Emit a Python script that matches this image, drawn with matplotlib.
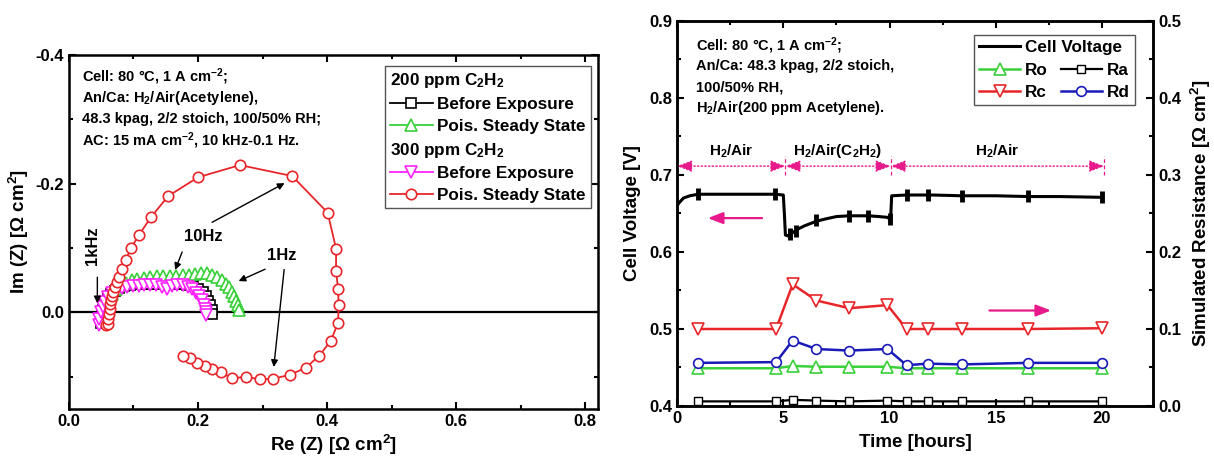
import numpy as np
import matplotlib
matplotlib.use("Agg")
from matplotlib import pyplot as plt
from matplotlib.lines import Line2D
from matplotlib.ticker import MultipleLocator

plt.rcParams['font.family'] = ['Liberation Sans', 'DejaVu Sans']
plt.rcParams['font.weight'] = 'bold'
plt.rcParams['axes.labelweight'] = 'bold'
plt.rcParams['mathtext.fontset'] = 'custom'
plt.rcParams['mathtext.rm'] = 'Liberation Sans:bold'
plt.rcParams['mathtext.bf'] = 'Liberation Sans:bold'
plt.rcParams['mathtext.it'] = 'Liberation Sans:bold'
plt.rcParams['mathtext.default'] = 'rm'
plt.rcParams['axes.unicode_minus'] = False

# ---- Nyquist data (Re, Im) in ohm cm2 ----
re_b200 = [0.050, 0.051, 0.053, 0.056, 0.060, 0.065, 0.071, 0.078, 0.086, 0.095, 0.104, 0.114, 0.124, 0.134,
           0.144, 0.154, 0.164, 0.174, 0.183, 0.192, 0.200, 0.207, 0.212, 0.216, 0.219, 0.221, 0.222]
im_b200 = [0.016, 0.006, -0.004, -0.013, -0.021, -0.028, -0.034, -0.038, -0.041, -0.043, -0.044, -0.045, -0.045, -0.045,
           -0.045, -0.045, -0.045, -0.044, -0.043, -0.041, -0.037, -0.032, -0.025, -0.018, -0.011, -0.004, 0.002]

re_p200 = [0.052, 0.055, 0.058, 0.062, 0.067, 0.073, 0.080, 0.088, 0.097, 0.106, 0.116, 0.126, 0.136, 0.146, 0.156,
           0.166, 0.176, 0.186, 0.196, 0.205, 0.214, 0.222, 0.230, 0.237, 0.243, 0.248, 0.252, 0.256, 0.259, 0.262, 0.264]
im_p200 = [0.008, -0.002, -0.012, -0.021, -0.029, -0.036, -0.042, -0.046, -0.050, -0.052, -0.054, -0.055, -0.056, -0.056,
           -0.057, -0.057, -0.058, -0.058, -0.059, -0.061, -0.062, -0.058, -0.055, -0.050, -0.045, -0.039, -0.032, -0.025,
           -0.018, -0.011, -0.004]

re_b300 = [0.046, 0.047, 0.049, 0.052, 0.056, 0.061, 0.067, 0.074, 0.082, 0.090, 0.099, 0.108, 0.117, 0.126, 0.135,
           0.144, 0.152, 0.160, 0.168, 0.176, 0.184, 0.191, 0.197, 0.202, 0.206, 0.209, 0.211, 0.212, 0.213]
im_b300 = [0.020, 0.010, 0.000, -0.009, -0.017, -0.024, -0.030, -0.035, -0.038, -0.040, -0.041, -0.041, -0.042, -0.042,
           -0.042, -0.040, -0.037, -0.041, -0.043, -0.042, -0.040, -0.036, -0.031, -0.025, -0.019, -0.012, -0.006,
           -0.001, 0.004]

re_p300 = [0.058, 0.060, 0.061, 0.062, 0.063, 0.064, 0.065, 0.067, 0.069, 0.071, 0.074, 0.078, 0.082, 0.088, 0.096,
           0.109, 0.127, 0.154, 0.200, 0.265, 0.346, 0.401, 0.414, 0.414, 0.417, 0.418, 0.417, 0.406, 0.388, 0.367,
           0.342, 0.316, 0.296, 0.275, 0.253, 0.235, 0.222, 0.211, 0.199, 0.188, 0.176]
im_p300 = [0.020, 0.018, 0.010, 0.003, -0.005, -0.013, -0.020, -0.026, -0.032, -0.039, -0.047, -0.055, -0.067, -0.081,
           -0.100, -0.121, -0.148, -0.181, -0.210, -0.229, -0.212, -0.155, -0.099, -0.065, -0.037, -0.012, 0.016, 0.044,
           0.067, 0.086, 0.097, 0.103, 0.104, 0.100, 0.102, 0.093, 0.088, 0.083, 0.078, 0.071, 0.067]

# ---- durability data ----
t_v = [0.0, 0.1, 0.3, 0.6, 1.0, 2.0, 3.0, 4.0, 4.6, 5.0, 5.05, 5.1, 5.2, 5.44, 5.7, 6.0, 6.56, 7.0, 7.5, 8.1,
       9.0, 9.5, 9.9, 10.0, 10.05, 10.1, 10.8, 12.0, 13.4, 15.0, 16.5, 18.0, 20.0]
volt = [0.660, 0.664, 0.670, 0.673, 0.675, 0.675, 0.675, 0.675, 0.675, 0.674, 0.650, 0.622, 0.621, 0.625, 0.630,
        0.634, 0.640, 0.643, 0.646, 0.647, 0.647, 0.646, 0.645, 0.643, 0.642, 0.673, 0.674, 0.674, 0.673, 0.673,
        0.672, 0.672, 0.671]
t_eis = [1.0, 4.6, 5.3, 5.6, 6.56, 8.1, 9.0, 10.0, 10.8, 11.8, 13.4, 16.5, 20.0]
v_eis = [0.675, 0.675, 0.624, 0.627, 0.641, 0.647, 0.647, 0.643, 0.674, 0.674, 0.673, 0.673, 0.671]

t_r = [1.0, 4.66, 5.44, 6.56, 8.1, 9.9, 10.8, 11.8, 13.4, 16.5, 20.0]
r_o = [0.049, 0.049, 0.052, 0.051, 0.051, 0.051, 0.049, 0.049, 0.049, 0.049, 0.049]
r_a = [0.006, 0.006, 0.008, 0.007, 0.006, 0.007, 0.006, 0.006, 0.006, 0.006, 0.006]
r_c = [0.100, 0.100, 0.158, 0.137, 0.127, 0.131, 0.100, 0.100, 0.100, 0.100, 0.101]
r_d = [0.056, 0.057, 0.085, 0.074, 0.072, 0.074, 0.053, 0.055, 0.054, 0.056, 0.056]

# stage boundaries [hours]
stage_edges = [0.0, 5.1, 10.05, 20.1]
stage_names = ['H$_2$/Air', 'H$_2$/Air(C$_2$H$_2$)', 'H$_2$/Air']

RED = '#E8262A'
GREEN = '#3AD03A'
BLUE = '#1A1AB8'
MAG = '#FF22FF'
PINK = '#E8198B'

fig = plt.figure(figsize=(12.14, 4.57), dpi=100)
ax1 = fig.add_axes([0.0568, 0.105, 0.4358, 0.7746])
ax2 = fig.add_axes([0.5577, 0.1116, 0.3921, 0.8425])
ax2r = ax2.twinx()


def style_axis(ax):
    for s in ax.spines.values():
        s.set_linewidth(1.8)
    ax.tick_params(which='both', direction='in', width=1.5, labelsize=12)
    ax.tick_params(which='major', length=5)
    ax.tick_params(which='minor', length=3)


# ---------------- left panel: Nyquist ----------------
mk = dict(markerfacecolor='white', markeredgewidth=1.2, linewidth=1.3)
l1, = ax1.plot(re_b200, im_b200, '-s', color='k', markersize=6.5, **mk)
l2, = ax1.plot(re_p200, im_p200, '-^', color=GREEN, markersize=8, **mk)
l3, = ax1.plot(re_b300, im_b300, '-v', color=MAG, markersize=8, **mk)
l4, = ax1.plot(re_p300, im_p300, '-o', color=RED, markersize=7.5, **mk)
ax1.axhline(0, color='k', linewidth=1.6, zorder=1)

ax1.set_xlim(0, 0.82)
ax1.set_ylim(0.15, -0.4)
ax1.xaxis.set_major_locator(MultipleLocator(0.2))
ax1.xaxis.set_minor_locator(MultipleLocator(0.1))
ax1.yaxis.set_major_locator(MultipleLocator(0.2))
ax1.yaxis.set_minor_locator(MultipleLocator(0.1))
ax1.xaxis.set_major_formatter(plt.FormatStrFormatter('%.1f'))
ax1.yaxis.set_major_formatter(plt.FormatStrFormatter('%.1f'))
style_axis(ax1)
ax1.tick_params(which='both', top=True, right=True)
ax1.set_xlabel('Re (Z) [Ω cm$^2$]', fontsize=13.5, labelpad=3)
ax1.set_ylabel('Im (Z) [Ω cm$^2$]', fontsize=13.5, labelpad=3)

cond1 = ['Cell: 80 °C, 1 A cm$^{-2}$;',
         'An/Ca: H$_2$/Air(Acetylene),',
         '48.3 kpag, 2/2 stoich, 100/50% RH;',
         'AC: 15 mA cm$^{-2}$, 10 kHz-0.1 Hz.']
for i, s in enumerate(cond1):
    ax1.text(0.024, 0.94 - i * 0.061, s, transform=ax1.transAxes, fontsize=10.5, va='center', ha='left')

hdr = Line2D([], [], linestyle='none', marker='none')
leg1 = ax1.legend([hdr, l1, l2, hdr, l3, l4],
                  ['200 ppm C$_2$H$_2$', 'Before Exposure', 'Pois. Steady State',
                   '300 ppm C$_2$H$_2$', 'Before Exposure', 'Pois. Steady State'],
                  loc='upper left', bbox_to_anchor=(0.597, 0.969), borderaxespad=0,
                  fontsize=12.3, handlelength=2.5, handletextpad=0.25, labelspacing=0.4,
                  borderpad=0.3, fancybox=False, framealpha=1, edgecolor='#555555')
leg1.get_frame().set_linewidth(1.0)
shift = (2.5 + 0.25) * 12.3 * fig.dpi / 72.0
for i in (0, 3):
    leg1.get_texts()[i].set_position((-shift, 0))

# frequency labels
ax1.text(0.037, -0.104, '1kHz', rotation=90, fontsize=12, ha='center', va='center')
ax1.annotate('', xy=(0.044, -0.01), xytext=(0.044, -0.059),
             arrowprops=dict(arrowstyle='-|>', color='k', lw=1.0, mutation_scale=10))
ax1.text(0.209, -0.118, '10Hz', fontsize=12, ha='center', va='center')
ax1.annotate('', xy=(0.338, -0.203), xytext=(0.218, -0.138),
             arrowprops=dict(arrowstyle='-|>', color='k', lw=1.0, mutation_scale=10))
ax1.annotate('', xy=(0.163, -0.062), xytext=(0.177, -0.098),
             arrowprops=dict(arrowstyle='-|>', color='k', lw=1.0, mutation_scale=10))
ax1.text(0.33, -0.089, '1Hz', fontsize=12, ha='center', va='center')
ax1.annotate('', xy=(0.259, -0.047), xytext=(0.308, -0.069),
             arrowprops=dict(arrowstyle='-|>', color='k', lw=1.0, mutation_scale=10))
ax1.annotate('', xy=(0.317, 0.089), xytext=(0.334, -0.071),
             arrowprops=dict(arrowstyle='-|>', color='k', lw=1.0, mutation_scale=10))

# ---------------- right panel: voltage + resistances ----------------
lv, = ax2.plot(t_v, volt, '-', color='k', linewidth=2.2)
ax2.plot(t_eis, v_eis, linestyle='none', marker='|', markersize=8, markeredgewidth=3.5, color='k')

ro, = ax2r.plot(t_r, r_o, '-^', color=GREEN, markersize=8, markerfacecolor='white', markeredgewidth=1.2, linewidth=1.8)
ra, = ax2r.plot(t_r, r_a, '-s', color='k', markersize=6, markerfacecolor='white', markeredgewidth=1.0, linewidth=1.6)
rc, = ax2r.plot(t_r, r_c, '-v', color=RED, markersize=9, markerfacecolor='white', markeredgewidth=1.2, linewidth=1.8)
rd, = ax2r.plot(t_r, r_d, '-o', color=BLUE, markersize=7, markerfacecolor='white', markeredgewidth=1.2, linewidth=1.8)

ax2.set_xlim(0, 22.4)
ax2.set_ylim(0.4, 0.9)
ax2r.set_ylim(0.0, 0.5)
ax2.xaxis.set_major_locator(MultipleLocator(5))
ax2.xaxis.set_minor_locator(MultipleLocator(2.5))
ax2.yaxis.set_major_locator(MultipleLocator(0.1))
ax2.yaxis.set_minor_locator(MultipleLocator(0.05))
ax2r.yaxis.set_major_locator(MultipleLocator(0.1))
ax2r.yaxis.set_minor_locator(MultipleLocator(0.05))
ax2.yaxis.set_major_formatter(plt.FormatStrFormatter('%.1f'))
ax2r.yaxis.set_major_formatter(plt.FormatStrFormatter('%.1f'))
style_axis(ax2)
style_axis(ax2r)
ax2.tick_params(which='both', top=True, right=False)
ax2.set_xlabel('Time [hours]', fontsize=13.5, labelpad=6)
ax2.set_ylabel('Cell Voltage [V]', fontsize=13.5, labelpad=6)
ax2r.set_ylabel('Simulated Resistance [Ω cm$^2$]', fontsize=13.5, labelpad=6)

cond2 = ['Cell: 80 °C, 1 A cm$^{-2}$;',
         'An/Ca: 48.3 kpag, 2/2 stoich,',
         '100/50% RH,',
         'H$_2$/Air(200 ppm Acetylene).']
for i, s in enumerate(cond2):
    ax2.text(0.04, 0.936 - i * 0.054, s, transform=ax2.transAxes, fontsize=10.5, va='center', ha='left')

# stage markers
y_st = 0.7115
for i in range(3):
    ax2.annotate('', xy=(stage_edges[i], y_st), xytext=(stage_edges[i + 1], y_st),
                 arrowprops=dict(arrowstyle='<|-|>,head_length=0.9,head_width=0.35', color=PINK,
                                 lw=1.0, linestyle=':', mutation_scale=10, shrinkA=0, shrinkB=0))
    ax2.text((stage_edges[i] + stage_edges[i + 1]) / 2, 0.731, stage_names[i],
             fontsize=11, ha='center', va='center')
for e in stage_edges[1:]:
    ax2.plot([e, e], [0.700, 0.725], color=PINK, linestyle='--', linewidth=0.9, dashes=(3, 2))

ax2.annotate('', xy=(1.45, 0.644), xytext=(4.0, 0.644),
             arrowprops=dict(arrowstyle='-|>,head_length=0.9,head_width=0.35', color=PINK, lw=1.6,
                             mutation_scale=10, shrinkA=0, shrinkB=0))
ax2r.annotate('', xy=(17.6, 0.124), xytext=(14.7, 0.124),
              arrowprops=dict(arrowstyle='-|>,head_length=0.9,head_width=0.35', color=PINK, lw=1.6,
                              mutation_scale=10, shrinkA=0, shrinkB=0))

blank = Line2D([], [], linestyle='none', marker='none')
leg2 = ax2r.legend([lv, ro, rc, blank, ra, rd], ['Cell Voltage', 'Ro', 'Rc', '', 'Ra', 'Rd'],
                   ncol=2, loc='upper left', bbox_to_anchor=(0.624, 0.964), borderaxespad=0,
                   fontsize=12.3, handlelength=2.4, handletextpad=0.3, labelspacing=0.45,
                   columnspacing=-3.6, borderpad=0.3, fancybox=False, framealpha=1, edgecolor='#555555')
leg2.get_frame().set_linewidth(1.0)

for ax in (ax1, ax2, ax2r):
    plt.setp(ax.get_xticklabels() + ax.get_yticklabels(), fontweight='bold')

fig.savefig('out.png', dpi=100)
